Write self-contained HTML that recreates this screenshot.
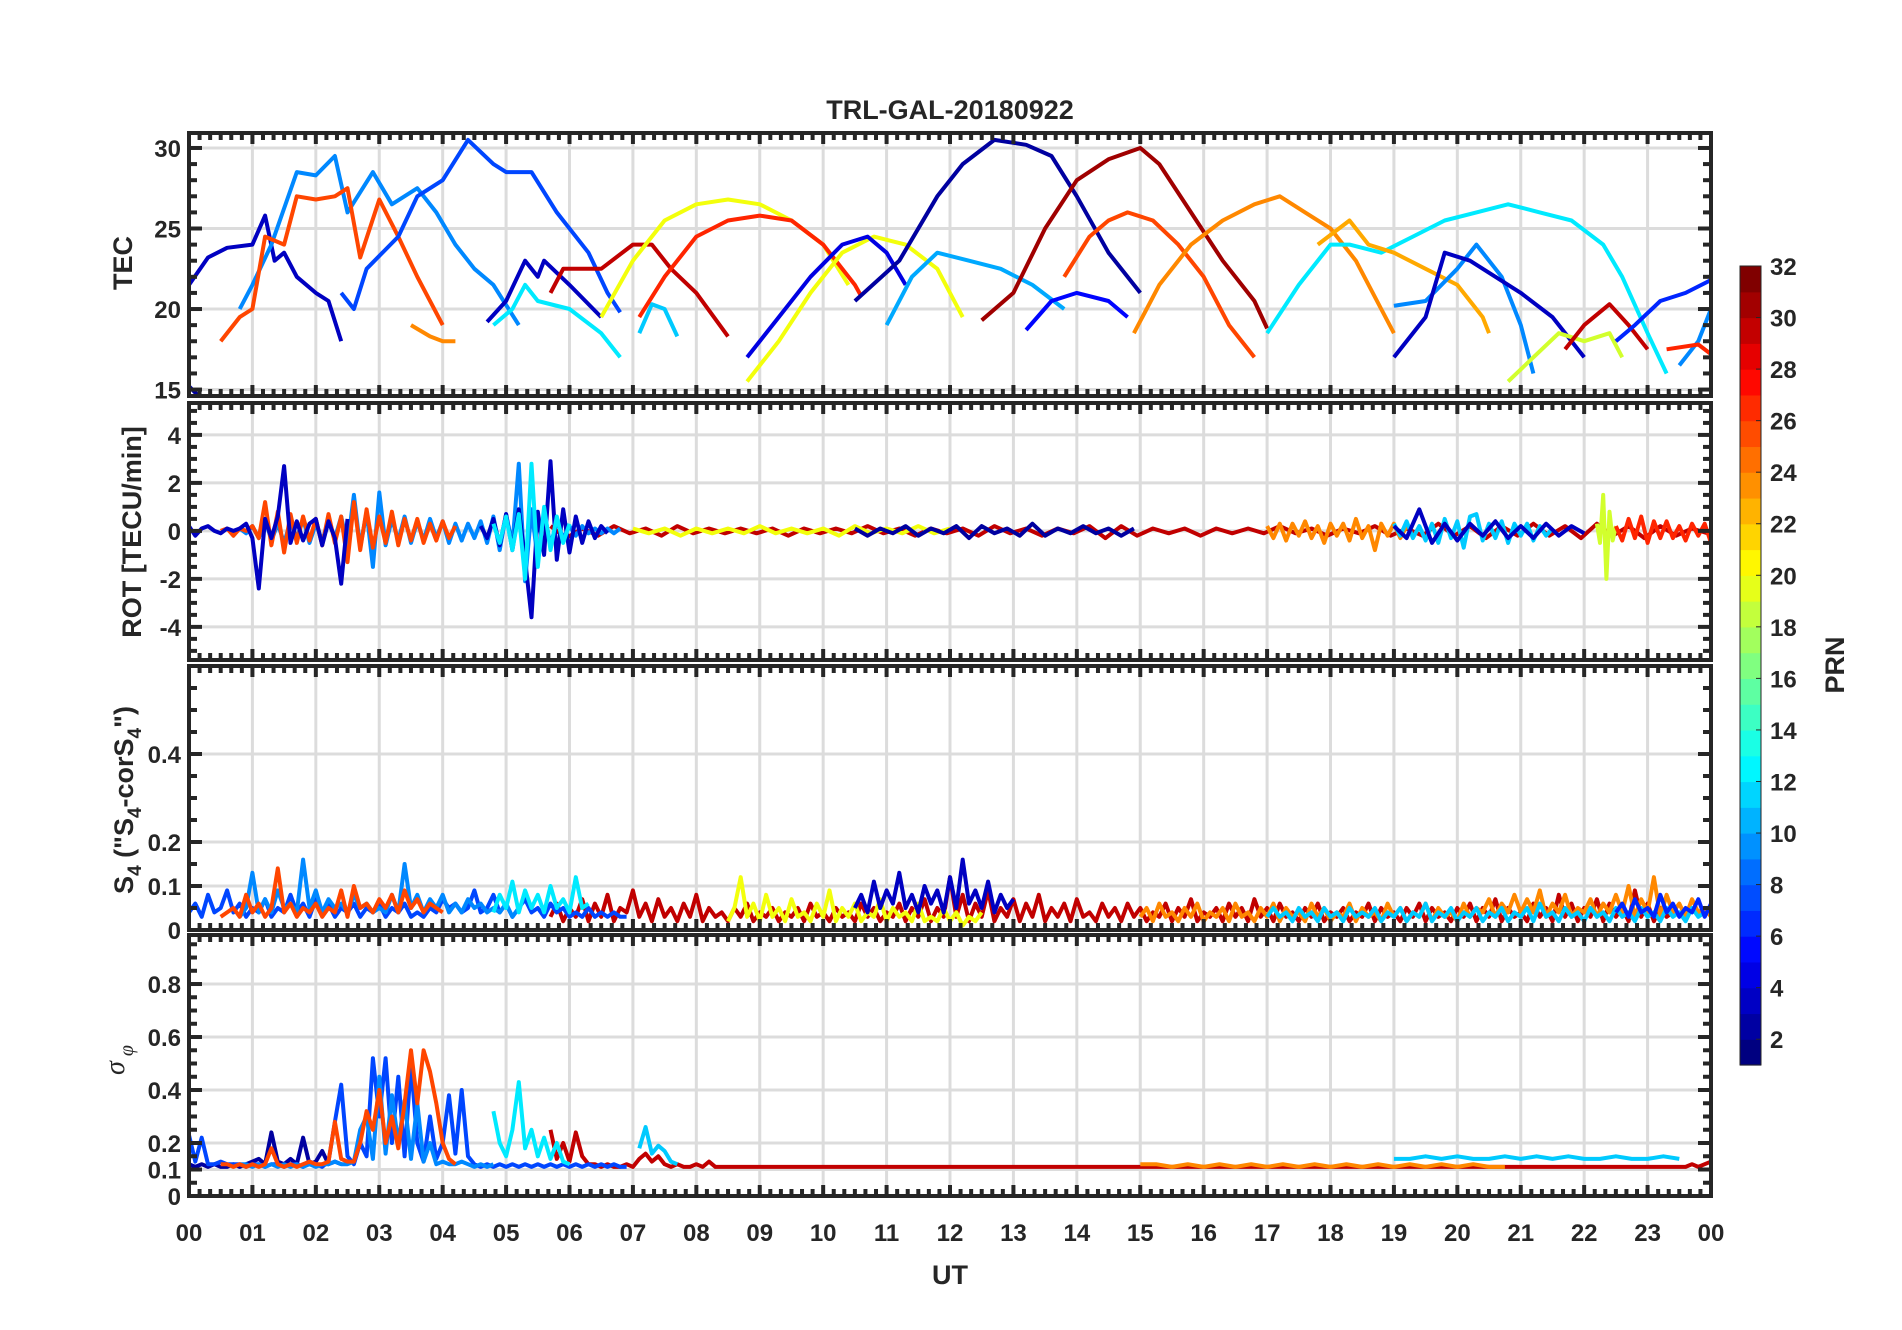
<!DOCTYPE html>
<html><head><meta charset="utf-8"><style>
html,body{margin:0;padding:0;background:#fff;}
svg{display:block;font-family:"Liberation Sans",Arial,sans-serif;}
</style></head>
<body>
<svg id="fig" width="1902" height="1330" viewBox="0 0 1902 1330" xmlns="http://www.w3.org/2000/svg">
<text x="950" y="119" text-anchor="middle" font-size="27" font-weight="bold" fill="#262626">TRL-GAL-20180922</text>
<g id="panels"></g>
<text x="950" y="1284" text-anchor="middle" font-size="27" font-weight="bold" fill="#262626">UT</text>
<text transform="translate(132,263) rotate(-90)" text-anchor="middle" font-size="27" font-weight="bold" fill="#262626">TEC</text>
<text transform="translate(141,532) rotate(-90)" text-anchor="middle" font-size="27" font-weight="bold" fill="#262626">ROT [TECU/min]</text>
<text transform="translate(133,800) rotate(-90)" text-anchor="middle" font-size="27" font-weight="bold" fill="#262626">S<tspan font-size="19" dy="8">4</tspan><tspan dy="-8"> ("S</tspan><tspan font-size="19" dy="8">4</tspan><tspan dy="-8">-corS</tspan><tspan font-size="19" dy="8">4</tspan><tspan dy="-8">")</tspan></text>
<text transform="translate(124,1060) rotate(-90)" text-anchor="middle" font-size="28" fill="#262626" font-family="Liberation Serif,serif" font-style="italic">σ<tspan font-size="20" dy="9"> φ</tspan></text>
<g id="cbar"></g>
<text transform="translate(1844,665) rotate(-90)" text-anchor="middle" font-size="27" font-weight="bold" fill="#262626">PRN</text>
</svg>
<script>
// ---------- data ----------
const hourTicks = ["00","01","02","03","04","05","06","07","08","09","10","11","12","13","14","15","16","17","18","19","20","21","22","23","00"];
const tecTicks = [15,20,25,30];
const rotTicks = [-4,-2,0,2,4];
const s4Ticks = [0,0.1,0.2,0.4];
const sigTicks = [0,0.1,0.2,0.4,0.6,0.8];
const cbTicks = [2,4,6,8,10,12,14,16,18,20,22,24,26,28,30,32];

// TEC arcs: PRN, times (h), values (TECU)
const tecPrn = [2,3,9,26,7,24,3,12,30,20,11,27,20,4,2,10,5,31,26,24,12,23,9,3,19,30,6,9,27];
const tecTimes = [
 [0,0.15],
 [0,0.3,0.6,1.0,1.2,1.35,1.5,1.7,2.0,2.2,2.4],
 [0.8,1.0,1.3,1.7,2.0,2.3,2.5,2.9,3.2,3.6,3.9,4.2,4.5,4.8,5.2],
 [0.5,0.8,1.0,1.2,1.5,1.7,2.0,2.3,2.5,2.7,3.0,3.3,3.6,4.0],
 [2.4,2.6,2.8,3.3,3.6,4.0,4.4,4.8,5.0,5.4,5.8,6.3,6.6,6.8],
 [3.5,3.8,4.0,4.2],
 [4.7,5.0,5.3,5.5,5.6,6.0,6.5],
 [4.8,5.1,5.3,5.5,6.0,6.5,6.8],
 [5.7,5.9,6.5,7.0,7.3,7.6,8.0,8.5],
 [6.5,7.0,7.5,8.0,8.5,9.0,9.5,10.0,10.4],
 [7.1,7.3,7.5,7.7],
 [7.1,7.5,8.0,8.5,9.0,9.5,10.0,10.5,10.6],
 [8.8,9.3,9.8,10.3,10.8,11.3,11.8,12.2],
 [8.8,9.3,9.8,10.3,10.7,11.0,11.3],
 [10.5,11.2,11.8,12.2,12.7,13.2,13.6,14.0,14.5,15.0],
 [11.0,11.4,11.8,12.3,12.8,13.3,13.8],
 [13.2,13.6,14.0,14.5,14.8],
 [12.5,13.0,13.5,14.0,14.5,15.0,15.3,15.8,16.3,16.8,17.0],
 [13.8,14.2,14.5,14.8,15.2,15.6,16.0,16.4,16.8],
 [14.9,15.3,15.8,16.3,16.8,17.2,17.6,18.0,18.4,18.8,19.0],
 [17.0,17.5,18.0,18.3,18.8,19.3,19.8,20.3,20.8,21.3,21.8,22.3,22.6,23.0,23.3],
 [17.8,18.3,18.6,19.0,19.5,20.0,20.4,20.5],
 [19.0,19.5,20.0,20.3,20.7,21.0,21.2],
 [19.0,19.5,19.8,20.2,20.6,21.0,21.5,22.0],
 [20.8,21.2,21.6,22.0,22.4,22.6],
 [21.7,22.0,22.4,22.7,23.0],
 [22.5,22.8,23.2,23.6,24.0],
 [23.5,23.8,24.0],
 [23.3,23.8,24.0]
];
const tecVals = [
 [15.2,14.6],
 [21.5,23.2,23.8,24.0,25.8,23.0,23.5,22.0,21.0,20.5,18.0],
 [20.0,21.5,24.0,28.5,28.3,29.5,26.0,28.5,26.5,27.5,26.0,24.0,22.5,21.5,19.0],
 [18.0,19.5,20.0,24.5,24.0,27.0,26.8,27.0,27.5,23.2,26.8,24.5,22.0,19.0],
 [21.0,20.0,22.5,24.5,27.0,28.0,30.5,29.0,28.5,28.5,26.0,23.5,21.0,19.8],
 [19.0,18.3,18.0,18.0],
 [19.2,20.5,23.0,22.0,23.0,21.5,19.5],
 [19.0,20.0,21.5,20.5,20.0,18.5,17.0],
 [21.0,22.5,22.5,24.0,24.0,22.5,21.0,18.3],
 [19.5,23.0,25.5,26.5,26.8,26.5,25.5,24.0,21.5],
 [18.5,20.3,20.0,18.3],
 [19.5,22.0,24.5,25.5,25.8,25.5,24.0,21.5,20.8],
 [15.5,18.0,21.0,23.5,24.5,24.0,22.5,19.5],
 [17.0,19.5,22.0,24.0,24.5,23.5,21.5],
 [20.5,23.0,27.0,29.0,30.5,30.2,29.5,27.0,23.5,21.0],
 [19.0,22.0,23.5,23.0,22.5,21.5,20.0],
 [18.7,20.5,21.0,20.5,19.5],
 [19.3,21.0,25.0,28.0,29.3,30.0,29.0,26.0,23.0,20.5,18.8],
 [22.0,24.5,25.5,26.0,25.5,24.0,22.0,19.0,17.0],
 [18.5,21.5,24.0,25.5,26.5,27.0,26.0,25.0,23.0,20.0,18.5],
 [18.5,21.5,24.0,24.0,23.5,24.5,25.5,26.0,26.5,26.0,25.5,24.0,22.0,18.5,16.0],
 [24.0,25.5,24.0,23.5,22.5,21.5,19.5,18.5],
 [20.2,20.5,22.5,24.0,22.0,19.0,16.0],
 [17.0,19.5,23.5,23.0,22.0,21.0,19.5,17.0],
 [15.5,17.0,18.5,18.0,18.5,17.0],
 [17.5,19.0,20.3,19.0,17.5],
 [18.0,19.0,20.5,21.0,21.8],
 [16.5,18.0,20.0],
 [17.5,17.8,17.2]
];

// ROT series: PRN, start (h), step (h), values
const rotPrn = [30,20,2,9,26,3,3,12,24,11,3,19,27];
const rotStart = [5.7,7.0,10.5,0.8,0.5,0,4.6,4.8,17.0,19.0,19.0,22.2,22.5];
const rotStep = [0.25,0.25,0.2,0.1,0.1,0.1,0.1,0.1,0.1,0.1,0.2,0.05,0.1];
const rotVals = [
 [0.2,-0.3,0.1,-0.2,0.2,-0.1,0.1,-0.2,0.2,-0.1,0.1,-0.1,0.1,-0.1,0.1,-0.2,0.1,-0.1,0.1,-0.1,0.2,-0.1,0.1,-0.2,0.1,-0.1,0.1,-0.2,0.2,-0.1,0.1,-0.2,0.1,-0.1,0.2,-0.3,0.2,-0.2,0.1,-0.1,0.1,-0.2,0.1,-0.1,0.1,-0.1,0.2,-0.1,0.1,-0.2,0.1,-0.1,0.2,-0.2,0.1,-0.2,0.3,-0.2,0.2,-0.3,0.2,-0.2,0.3,-0.2,0.2,-0.3,0.3,-0.2,0.2,-0.3,0.2,-0.2,0.1,-0.1],
 [0.1,-0.1,0.1,-0.2,0.1,-0.1,0.1,-0.1,0.2,-0.1,0.1,-0.1,0.1,-0.2,0.2,-0.1,0.1,-0.1,0.2,-0.1,0.1],
 [0.1,-0.2,0.1,-0.1,0.2,-0.2,0.1,-0.1,0.2,-0.3,0.2,-0.1,0.1,-0.2,0.3,-0.2,0.1,-0.1,0.2,-0.1,0.1,-0.2,0.1],
 [0.1,-0.1,0.2,-0.3,0.5,-0.4,0.3,-0.5,0.4,-0.3,0.5,-0.5,0.3,-0.4,0.4,-0.3,0.6,-0.6,1.5,-0.7,0.8,-1.5,1.6,-0.6,0.5,-0.4,0.6,-0.5,0.4,-0.4,0.5,-0.3,0.4,-0.5,0.3,-0.4,0.3,-0.3,0.4,-0.5,0.6,-0.8,0.7,-0.6,2.8,-2.1,0.9,-1.2,0.8,-0.6,0.4,-0.3,0.2,-0.2,0.2,-0.1,0.1,-0.1,0.1,-0.1,0.1],
 [0,0.1,-0.2,0.1,0,0.2,-0.3,1.2,-0.6,0.8,-0.9,0.7,-0.5,0.6,-0.4,0.5,-0.6,0.7,-0.5,0.6,-1.3,1.2,-0.8,0.9,-0.7,0.6,-0.5,0.8,-0.6,0.5,-0.4,0.5,-0.5,0.3,-0.4,0.4,-0.3,0.2],
 [0.2,-0.2,0.1,0.2,0,-0.1,0.1,0,0.1,0.3,-0.3,-2.4,0.5,-0.3,0.6,2.7,-0.5,0.4,-0.4,0.3,0.5,-0.6,0.4,-0.3,-2.2,0.5],
 [0.2,-0.3,0.5,-0.6,0.7,-0.8,0.9,-1.2,-3.6,0.8,-1.0,2.9,-1.2,0.9,-0.9,0.6,-0.5,0.4,-0.3,0.2,-0.1],
 [0.3,-0.5,0.6,-0.8,0.7,-2.0,2.8,-1.5,1.0,-0.8,0.6,-0.5,0.3],
 [0.2,-0.3,0.3,-0.4,0.3,-0.2,0.4,-0.3,0.2,-0.5,0.3,-0.2,0.3,-0.4,0.5,-0.3,0.2,-0.8,0.3,-0.2,0.3,-0.3,0.2],
 [0.3,-0.2,0.4,-0.3,0.2,-0.4,0.3,-0.5,0.5,-0.3,0.4,-0.7,0.6,0.7,-0.4,0.3,-0.3,0.4,-0.5,0.3,-0.2,0.3,-0.4,0.2,-0.2,0.1],
 [0.2,-0.3,0.9,-0.5,0.3,-0.4,0.3,-0.2,0.4,-0.3,0.2,-0.3,0.3,-0.2,0.2,-0.1],
 [0.3,-0.5,1.5,-2.0,0.8,-0.4,0.2],
 [0.2,-0.4,0.5,-0.3,0.6,-0.5,0.4,-0.3,0.4,-0.3,0.2,-0.4,0.3,-0.2,0.3,-0.5]
];

// S4 series
const s4Prn = [30,20,3,7,9,26,12,24,11,6];
const s4Start = [5.7,8.5,10.5,0,0.8,0.5,4.8,15.0,17.0,22.5];
const s4Step = [0.1,0.1,0.1,0.1,0.1,0.1,0.1,0.1,0.1,0.1];
const s4Vals = [
 [0.03,0.06,0.02,0.05,0.03,0.07,0.02,0.06,0.03,0.08,0.02,0.05,0.04,0.09,0.03,0.06,0.02,0.07,0.03,0.05,0.02,0.06,0.03,0.08,0.02,0.05,0.03,0.04,0.02,0.05,0.03,0.06,0.02,0.04,0.03,0.05,0.02,0.04,0.03,0.05,0.02,0.06,0.03,0.04,0.02,0.05,0.03,0.04,0.02,0.06,0.03,0.05,0.02,0.04,0.03,0.06,0.02,0.05,0.03,0.07,0.02,0.05,0.03,0.12,0.03,0.08,0.02,0.06,0.03,0.09,0.02,0.05,0.03,0.07,0.02,0.06,0.03,0.08,0.02,0.05,0.03,0.06,0.02,0.07,0.03,0.04,0.02,0.06,0.03,0.05,0.02,0.06,0.03,0.05,0.02,0.04,0.03,0.06,0.02,0.05,0.03,0.07,0.02,0.04,0.03,0.05,0.02,0.06,0.03,0.05,0.02,0.07,0.03,0.05,0.02,0.06,0.03,0.04,0.02,0.05,0.03,0.06,0.02,0.04,0.03,0.05,0.02,0.04,0.03,0.06,0.02,0.05,0.03,0.04,0.02,0.05,0.03,0.06,0.02,0.05,0.03,0.04,0.02,0.05,0.03,0.06,0.02,0.05,0.03,0.07,0.02,0.05,0.03,0.04,0.02,0.06,0.03,0.05,0.02,0.08,0.03,0.06,0.02,0.05,0.03,0.07,0.02,0.06,0.03,0.05,0.02,0.09,0.03,0.06,0.02,0.05,0.03,0.04],
 [0.02,0.05,0.12,0.03,0.06,0.02,0.08,0.03,0.05,0.02,0.07,0.03,0.04,0.02,0.06,0.03,0.09,0.02,0.05,0.03,0.06,0.02,0.04,0.03,0.07,0.02,0.05,0.03,0.04,0.02,0.06,0.02,0.03,0.02,0.05,0.02,0.04,0.01,0.03,0.02,0.04],
 [0.05,0.08,0.04,0.11,0.05,0.09,0.06,0.13,0.05,0.08,0.04,0.10,0.06,0.09,0.04,0.12,0.05,0.16,0.06,0.09,0.05,0.11,0.04,0.08,0.05,0.07],
 [0.04,0.06,0.03,0.08,0.04,0.05,0.09,0.04,0.06,0.03,0.05,0.04,0.07,0.03,0.05,0.04,0.08,0.04,0.06,0.03,0.07,0.04,0.06,0.03,0.05,0.04,0.06,0.03,0.05,0.04,0.06,0.03,0.05,0.04,0.06,0.03,0.04,0.03,0.05,0.04,0.07,0.05,0.06,0.04,0.05,0.09,0.04,0.05,0.08,0.04,0.06,0.03,0.05,0.07,0.04,0.05,0.03,0.06,0.04,0.05,0.03,0.04,0.03,0.05,0.03,0.04,0.03,0.04,0.03,0.03],
 [0.03,0.05,0.13,0.04,0.07,0.04,0.09,0.05,0.06,0.04,0.16,0.05,0.09,0.04,0.07,0.05,0.06,0.04,0.08,0.05,0.06,0.04,0.05,0.04,0.08,0.04,0.15,0.05,0.08,0.04,0.07,0.05,0.08,0.04,0.06,0.04,0.07,0.05,0.06,0.04,0.05,0.04,0.06,0.03,0.05],
 [0.03,0.04,0.05,0.03,0.08,0.04,0.06,0.03,0.05,0.14,0.04,0.06,0.03,0.05,0.04,0.06,0.03,0.05,0.04,0.09,0.03,0.10,0.05,0.06,0.04,0.07,0.05,0.08,0.04,0.09,0.05,0.07,0.04,0.06,0.05,0.04],
 [0.04,0.08,0.05,0.11,0.04,0.09,0.05,0.08,0.04,0.10,0.05,0.07,0.04,0.12,0.05,0.06],
 [0.03,0.05,0.02,0.06,0.03,0.04,0.02,0.05,0.03,0.06,0.02,0.04,0.03,0.05,0.02,0.06,0.03,0.04,0.02,0.05,0.03,0.06,0.02,0.05,0.03,0.04,0.02,0.06,0.03,0.05,0.02,0.04,0.03,0.06,0.02,0.05,0.03,0.04,0.02,0.06,0.03,0.05,0.02,0.04,0.03,0.06,0.02,0.05,0.03,0.04,0.02,0.06,0.03,0.05,0.04,0.07,0.03,0.06,0.04,0.08,0.04,0.07,0.04,0.09,0.03,0.06,0.04,0.08,0.03,0.05,0.04,0.07,0.03,0.06,0.04,0.08,0.04,0.10,0.03,0.07,0.04,0.12,0.03,0.08,0.04,0.06,0.03,0.07,0.04,0.05,0.03,0.06,0.04,0.07,0.03,0.05,0.04,0.06,0.03,0.08,0.04,0.06,0.03,0.05,0.04,0.07,0.03,0.06,0.04,0.09,0.03,0.07,0.04,0.05,0.03,0.06,0.04,0.08,0.05,0.11,0.04,0.18,0.05,0.12,0.04,0.08,0.04,0.06,0.03,0.05,0.03,0.04,0.03,0.05,0.03,0.04,0.03,0.05,0.03,0.04,0.03,0.05,0.03,0.04],
 [0.03,0.05,0.03,0.04,0.02,0.05,0.03,0.04,0.02,0.05,0.03,0.04,0.02,0.05,0.03,0.04,0.03,0.05,0.02,0.04,0.03,0.05,0.02,0.04,0.03,0.06,0.02,0.04,0.03,0.05,0.02,0.04,0.03,0.05,0.02,0.04,0.03,0.05,0.02,0.04,0.03,0.05,0.02,0.06,0.03,0.04,0.02,0.05,0.03,0.04,0.02,0.05,0.03,0.04,0.02,0.05,0.03,0.04,0.02,0.05,0.03,0.04,0.02,0.05,0.03,0.04,0.02,0.05,0.03,0.04],
 [0.04,0.06,0.03,0.07,0.04,0.05,0.03,0.08,0.04,0.06,0.03,0.05,0.04,0.07,0.03,0.06]
];

// sigma-phi series
const sigPrn = [30,2,7,9,26,12,11,11,24];
const sigStart = [5.7,0,0,0.8,0.5,4.8,7.1,19.0,15.0];
const sigStep = [0.1,0.1,0.1,0.1,0.1,0.1,0.1,0.25,0.25];
const sigVals = [
 [0.25,0.14,0.2,0.13,0.24,0.15,0.12,0.12,0.11,0.12,0.11,0.11,0.12,0.11,0.14,0.16,0.13,0.15,0.12,0.11,0.12,0.11,0.11,0.12,0.11,0.13,0.11,0.11,0.11,0.11,0.11,0.11,0.11,0.11,0.11,0.11,0.11,0.11,0.11,0.11,0.11,0.11,0.11,0.11,0.11,0.11,0.11,0.11,0.11,0.11,0.11,0.11,0.11,0.11,0.11,0.11,0.11,0.11,0.11,0.11,0.11,0.11,0.11,0.11,0.11,0.11,0.11,0.11,0.11,0.11,0.11,0.11,0.11,0.11,0.11,0.11,0.11,0.11,0.11,0.11,0.11,0.11,0.11,0.11,0.11,0.11,0.11,0.11,0.11,0.11,0.11,0.11,0.11,0.11,0.11,0.11,0.11,0.11,0.11,0.11,0.11,0.11,0.11,0.11,0.11,0.11,0.11,0.11,0.11,0.11,0.11,0.11,0.11,0.11,0.11,0.11,0.11,0.11,0.11,0.11,0.11,0.11,0.11,0.11,0.11,0.11,0.11,0.11,0.11,0.11,0.11,0.11,0.11,0.11,0.11,0.11,0.11,0.11,0.11,0.11,0.11,0.11,0.11,0.11,0.11,0.11,0.11,0.11,0.11,0.11,0.11,0.11,0.11,0.11,0.11,0.11,0.11,0.11,0.11,0.11,0.11,0.11,0.11,0.11,0.11,0.11,0.11,0.11,0.11,0.11,0.11,0.11,0.11,0.11,0.11,0.11,0.11,0.11,0.11,0.11,0.12,0.11,0.12,0.13,0.12],
 [0.12,0.11,0.12,0.11,0.12,0.11,0.11,0.12,0.11,0.12,0.13,0.14,0.12,0.24,0.13,0.12,0.14,0.12,0.22,0.12,0.13,0.17,0.12,0.13,0.12],
 [0.23,0.13,0.22,0.12,0.12,0.13,0.12,0.12,0.12,0.11,0.12,0.12,0.11,0.12,0.12,0.11,0.12,0.12,0.11,0.13,0.12,0.11,0.13,0.28,0.42,0.15,0.12,0.2,0.15,0.52,0.3,0.52,0.2,0.45,0.15,0.5,0.2,0.13,0.3,0.14,0.2,0.38,0.16,0.4,0.15,0.12,0.11,0.12,0.11,0.12,0.11,0.12,0.11,0.12,0.11,0.12,0.11,0.12,0.11,0.12,0.11,0.12,0.11,0.12,0.11,0.12,0.11,0.12,0.11,0.11],
 [0.12,0.12,0.11,0.12,0.11,0.12,0.11,0.12,0.11,0.12,0.11,0.12,0.11,0.12,0.12,0.13,0.12,0.12,0.13,0.25,0.3,0.14,0.45,0.16,0.38,0.2,0.36,0.14,0.35,0.13,0.2,0.12,0.13,0.12,0.12,0.13,0.12,0.11,0.12,0.11,0.12],
 [0.12,0.12,0.11,0.12,0.11,0.12,0.11,0.12,0.18,0.12,0.11,0.12,0.11,0.12,0.13,0.12,0.12,0.13,0.28,0.14,0.13,0.13,0.2,0.32,0.25,0.4,0.2,0.3,0.18,0.35,0.55,0.35,0.55,0.47,0.35,0.2,0.14,0.12],
 [0.32,0.2,0.15,0.25,0.43,0.18,0.25,0.15,0.22,0.14,0.2,0.13,0.12],
 [0.18,0.26,0.16,0.19,0.17,0.13,0.12],
 [0.14,0.14,0.15,0.14,0.15,0.14,0.14,0.15,0.14,0.15,0.14,0.15,0.14,0.14,0.15,0.14,0.14,0.15,0.14],
 [0.12,0.12,0.11,0.12,0.11,0.12,0.11,0.12,0.11,0.12,0.11,0.12,0.11,0.12,0.11,0.12,0.11,0.12,0.11,0.12,0.11,0.12,0.11,0.11]
];

// ---------- layout ----------
const NS = "http://www.w3.org/2000/svg";
const X0 = 189, X1 = 1711;
const panels = [
 {name:"tec", top:133, bot:396, vmin:14.6, vmax:30.93, ticks:tecTicks, minor:1, fmt:v=>String(v)},
 {name:"rot", top:403, bot:660, vmin:-5.38, vmax:5.33, ticks:rotTicks, minor:0.5, fmt:v=>String(v)},
 {name:"s4", top:666, bot:930, vmin:0, vmax:0.6, ticks:s4Ticks, minor:0.05, fmt:v=>v===0?"0":String(v)},
 {name:"sigma", top:935, bot:1196, vmin:0, vmax:0.985, ticks:sigTicks, minor:0.05, fmt:v=>v===0?"0":String(v)}
];
function xOf(h){ return X0 + (X1-X0)*h/24; }
function yOf(p,v){ return p.bot - (v-p.vmin)/(p.vmax-p.vmin)*(p.bot-p.top); }
function clamp(a){ return Math.max(0,Math.min(1,a)); }
function jet(prn){
  const t=(prn-1)/31;
  const r=clamp(Math.min(4*t-1.5,-4*t+4.5)), g=clamp(Math.min(4*t-0.5,-4*t+3.5)), b=clamp(Math.min(4*t+0.5,-4*t+2.5));
  return "rgb("+Math.round(r*255)+","+Math.round(g*255)+","+Math.round(b*255)+")";
}
function mk(tag, attrs, parent){
  const e=document.createElementNS(NS,tag);
  for(const k in attrs) e.setAttribute(k,attrs[k]);
  parent.appendChild(e); return e;
}
const root=document.getElementById("panels");
const dark="#262626";

panels.forEach((p,pi)=>{
  const g=mk("g",{},root);
  
  
  const clip=mk("clipPath",{id:"clip"+pi},g);
  mk("rect",{x:X0,y:p.top,width:X1-X0,height:p.bot-p.top},clip);
  const grid=mk("g",{stroke:"#dcdcdc","stroke-width":3},g);
  
  
  for(let h=1;h<24;h++) mk("line",{x1:xOf(h),x2:xOf(h),y1:p.top,y2:p.bot},grid);
  p.ticks.forEach(v=>{ const y=yOf(p,v); if(y>p.top+3&&y<p.bot-3) mk("line",{x1:X0,x2:X1,y1:y,y2:y},grid); });
  const dg=mk("g",{"clip-path":"url(#clip"+pi+")",fill:"none","stroke-width":4,"stroke-linejoin":"round"},g);
  
  
  function line(prn, pts, nm){
    const pl=mk("polyline",{points:pts.map(q=>q[0].toFixed(1)+","+q[1].toFixed(1)).join(" "),stroke:jet(prn)},dg);
    
    
  }
  if(p.name==="tec"){
    tecPrn.forEach((prn,i)=>line(prn, tecTimes[i].map((t,j)=>[xOf(t),yOf(p,tecVals[i][j])]), "tec-arc-prn"+prn));
  } else {
    let P,S,D,V;
    if(p.name==="rot"){P=rotPrn;S=rotStart;D=rotStep;V=rotVals;}
    if(p.name==="s4"){P=s4Prn;S=s4Start;D=s4Step;V=s4Vals;}
    if(p.name==="sigma"){P=sigPrn;S=sigStart;D=sigStep;V=sigVals;}
    P.forEach((prn,i)=>line(prn, V[i].map((v,j)=>[xOf(S[i]+j*D[i]),yOf(p,v)]), p.name+"-trace-prn"+prn));
  }
  const ax=mk("g",{stroke:dark,"stroke-width":4,fill:"none"},g);
  
  
  mk("rect",{x:X0,y:p.top,width:X1-X0,height:p.bot-p.top},ax);
  for(let m=0;m<=24*6;m++){
    const x=xOf(m/6), L=(m%6===0)?11:7;
    mk("line",{x1:x,x2:x,y1:p.bot,y2:p.bot-L},ax);
    mk("line",{x1:x,x2:x,y1:p.top,y2:p.top+L},ax);
  }
  const n=Math.round((p.vmax-p.vmin)/p.minor)+2;
  const start=Math.ceil(p.vmin/p.minor);
  for(let k=start;k<start+n;k++){
    const v=k*p.minor, y=yOf(p,v);
    if(y<p.top-1||y>p.bot+1) continue;
    const major=p.ticks.some(t=>Math.abs(t-v)<1e-6), L=major?13:8;
    mk("line",{x1:X0,x2:X0+L,y1:y,y2:y},ax);
    mk("line",{x1:X1,x2:X1-L,y1:y,y2:y},ax);
  }
  p.ticks.forEach(v=>{
    const t=mk("text",{x:X0-8,y:yOf(p,v)+9,"text-anchor":"end","font-size":24,"font-weight":"bold",fill:dark},g);
    
    
    t.textContent=p.fmt(v);
  });
});
hourTicks.forEach((lab,i)=>{
  const t=mk("text",{x:xOf(i),y:1241,"text-anchor":"middle","font-size":24,"font-weight":"bold",fill:dark},root);
  
  
  t.textContent=lab;
});
const cb=document.getElementById("cbar");
const CB_T=266, CB_B=1065, CB_X=1740, CB_W=21;
function cbY(v){ return CB_B - (v-1)/31*(CB_B-CB_T); }
for(let k=1;k<=31;k++){
  const r=mk("rect",{x:CB_X,y:cbY(k+1),width:CB_W,height:cbY(k)-cbY(k+1)+0.6,fill:jet(k+(k-1)/30)},cb);
  
  
}
mk("rect",{x:CB_X,y:CB_T,width:CB_W,height:CB_B-CB_T,fill:"none",stroke:dark,"stroke-width":1},cb);
cbTicks.forEach(v=>{
  mk("line",{x1:CB_X+CB_W-5,x2:CB_X+CB_W,y1:cbY(v),y2:cbY(v),stroke:dark,"stroke-width":1},cb);
  const t=mk("text",{x:1770,y:cbY(v)+9,"font-size":24,"font-weight":"bold",fill:dark},cb);
  
  
  t.textContent=String(v);
});
</script>
</body></html>
